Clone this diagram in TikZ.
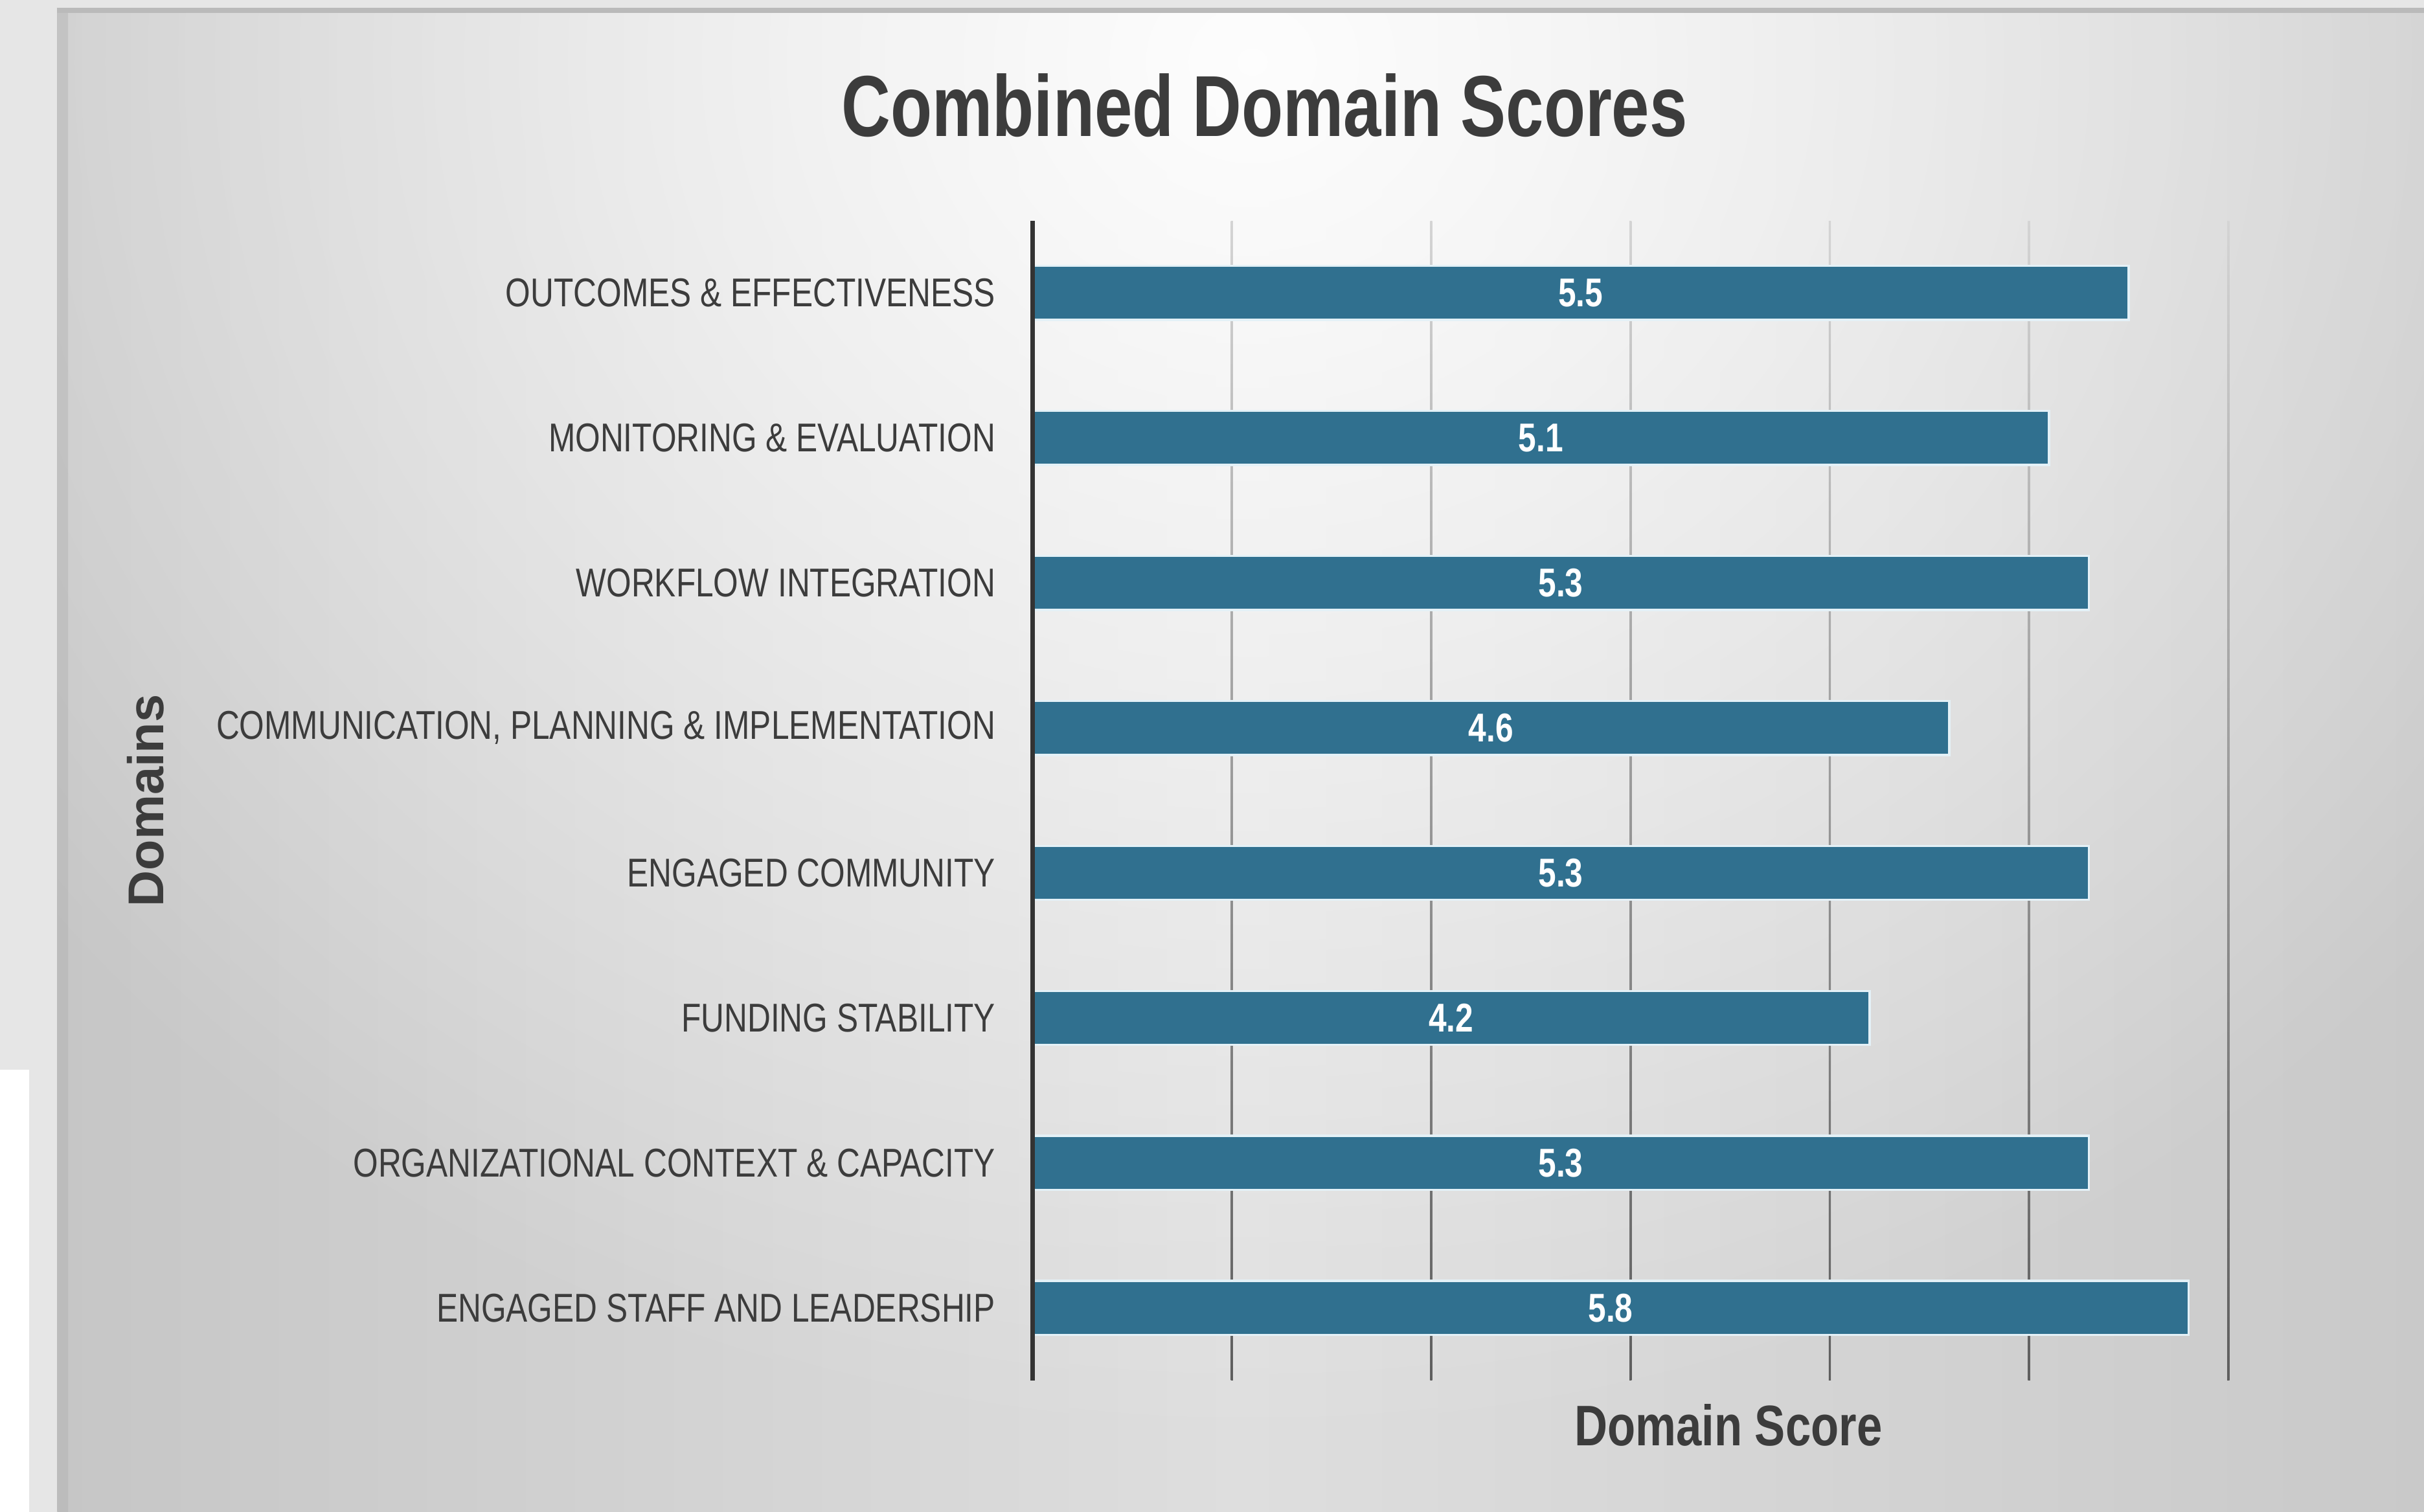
\documentclass[tikz,border=0pt]{standalone}
\usepackage{fontspec}
\setmainfont{Liberation Sans}
\newfontfamily\condfont{Liberation Sans}[FakeStretch=0.8]
\newfontfamily\titlefont{Liberation Sans}[FakeStretch=0.785]
\usetikzlibrary{fadings}
\definecolor{outerbg}{HTML}{E6E6E6}
\definecolor{panL}{HTML}{C6C6C6}
\definecolor{panM}{HTML}{DEDEDE}
\definecolor{panR}{HTML}{C9C9C9}
\definecolor{barcol}{HTML}{30708F}
\definecolor{baredge}{HTML}{E4F1F7}
\definecolor{txtcol}{HTML}{3C3C3C}
\definecolor{axiscol}{HTML}{333333}
\definecolor{gridtop}{HTML}{D4D4D4}
\definecolor{gridbot}{HTML}{5E5E5E}
\tikzfading[name=softglow, inner color=transparent!0, outer color=transparent!100]
\tikzset{
  barbox/.style={fill=barcol, draw=baredge, line width=1.4pt},
  vallab/.style={font=\condfont\bfseries\fontsize{26}{28}\selectfont, text=white, inner sep=0pt},
  catlab/.style={font=\condfont\fontsize{26}{28}\selectfont, text=txtcol, inner sep=0pt, anchor=east},
  titlelab/.style={font=\titlefont\bfseries\fontsize{56}{60}\selectfont, text=txtcol, inner sep=0pt},
  axlab/.style={font=\condfont\bfseries\fontsize{37}{40}\selectfont, text=txtcol, inner sep=0pt},
  ylab/.style={font=\bfseries\fontsize{32.5}{35}\selectfont, text=txtcol, inner sep=0pt, rotate=90}
}
\begin{document}
\begin{tikzpicture}[x=1pt,y=-1pt]
\useasboundingbox (0,0) rectangle (1568,978);
% outer background
\fill[outerbg] (0,0) rectangle (1568,978);
\fill[white] (0,692) rectangle (19,978);
% panel
\shade[left color=panL, right color=panR, middle color=panM] (37,6) rectangle (1568,978);
\begin{scope}
  \clip (37,6) rectangle (1568,978);
  \fill[white, path fading=softglow, fill opacity=0.95] (810,40) ellipse [x radius=1000, y radius=900];
\end{scope}
\shade[left color=black!30, right color=black!30, fill opacity=0.45] (37,6) rectangle (44,978);
\fill[black!27] (37,5) rectangle (1568,8.5);
% gridlines
\foreach \g in {1,...,6}{
  \shade[top color=gridtop, bottom color=gridbot] ({668+128.9*\g-0.7},143) rectangle ({668+128.9*\g+0.7},893);
}
% bars, values and categories
\foreach \lab/\v [count=\i from 0] in {
  {OUTCOMES \& EFFECTIVENESS}/5.5,
  {MONITORING \& EVALUATION}/5.1,
  {WORKFLOW INTEGRATION}/5.3,
  {COMMUNICATION, PLANNING \& IMPLEMENTATION}/4.6,
  {ENGAGED COMMUNITY}/5.3,
  {FUNDING STABILITY}/4.2,
  {ORGANIZATIONAL CONTEXT \& CAPACITY}/5.3,
  {ENGAGED STAFF AND LEADERSHIP}/5.8}{
  \pgfmathsetmacro\yc{189.5+93.8*\i}
  \pgfmathsetmacro\xe{668+128.9*\v}
  \draw[barbox] (668,{\yc-17.5}) rectangle (\xe,{\yc+17.5});
  \node[vallab] (val\i) at ({(668+\xe)/2},\yc) {\v};
  \node[catlab] (cat\i) at (644,\yc) {\lab};
}
% axis
\coordinate (axtop) at (668,143);
\coordinate (axbot) at (668,893);
\draw[axiscol, line width=3pt] (axtop) -- (axbot);
% titles
\node[titlelab] (title) at (818,68) {Combined Domain Scores};
\node[axlab] (xtitle) at (1118,922) {Domain Score};
\node[ylab] (ytitle) at (94,518) {Domains};
\end{tikzpicture}
\end{document}
